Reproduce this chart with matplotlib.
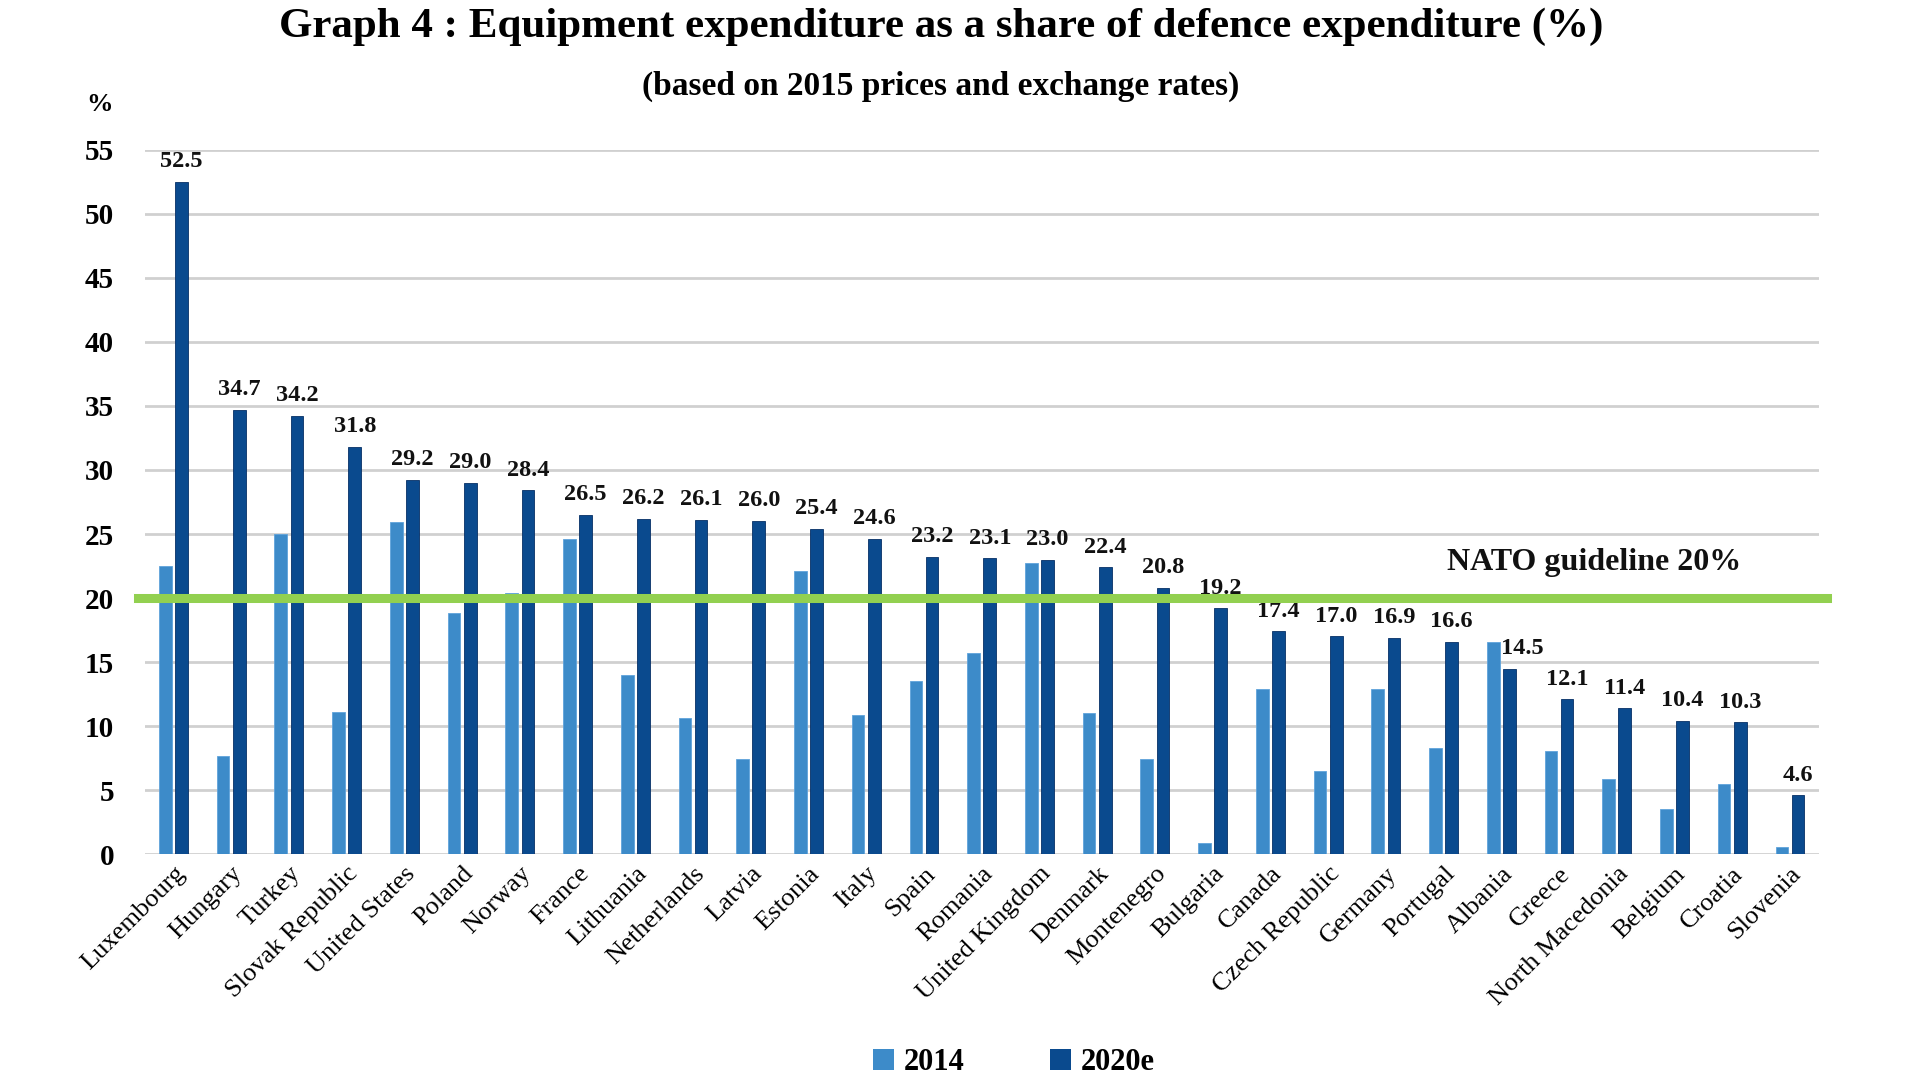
import matplotlib
matplotlib.use("Agg")
import matplotlib.pyplot as plt
import numpy as np
from matplotlib.patches import Patch

countries = ["Luxembourg", "Hungary", "Turkey", "Slovak Republic", "United States", "Poland",
             "Norway", "France", "Lithuania", "Netherlands", "Latvia", "Estonia", "Italy", "Spain",
             "Romania", "United Kingdom", "Denmark", "Montenegro", "Bulgaria", "Canada",
             "Czech Republic", "Germany", "Portugal", "Albania", "Greece", "North Macedonia",
             "Belgium", "Croatia", "Slovenia"]
values_2014 = [22.5, 7.7, 25.0, 11.1, 25.9, 18.8, 20.4, 24.6, 14.0, 10.6, 7.4, 22.1, 10.9, 13.5,
               15.7, 22.7, 11.0, 7.4, 0.9, 12.9, 6.5, 12.9, 8.3, 16.6, 8.1, 5.9, 3.5, 5.5, 0.6]
values_2020 = [52.5, 34.7, 34.2, 31.8, 29.2, 29.0, 28.4, 26.5, 26.2, 26.1, 26.0, 25.4, 24.6, 23.2,
               23.1, 23.0, 22.4, 20.8, 19.2, 17.4, 17.0, 16.9, 16.6, 14.5, 12.1, 11.4, 10.4, 10.3, 4.6]
series_names = ["2014", "2020e"]
yticks = [0, 5, 10, 15, 20, 25, 30, 35, 40, 45, 50, 55]
guideline = 20
guideline_label = "NATO guideline 20%"

plt.rcParams['font.family'] = ['Liberation Serif', 'DejaVu Serif']

c14 = "#3D8BC9"
c20 = "#0A4A8E"
green = "#92D050"

fig = plt.figure(figsize=(19.2, 10.8), dpi=100)
ax = fig.add_axes([0.0753, 0.209, 0.872, 0.6524])

x = np.arange(len(countries))
w = 0.22
off = 0.14
ax.bar(x - off, values_2014, w, color=c14, edgecolor="#5FA3DB", linewidth=0.6, zorder=3)
ax.bar(x + off, values_2020, w, color=c20, edgecolor="#062F66", linewidth=0.6, zorder=3)

for xi, v, v14 in zip(x, values_2020, values_2014):
    dx = 9 if v14 > v else 0
    ax.annotate(f"{v:.1f}", (xi + off, v), xytext=(dx, 7), textcoords="offset points",
                ha="center", va="bottom", fontsize=17.5, fontweight="bold", color="#111111")

ax.axhline(guideline, xmin=-0.004, xmax=1.005, color=green, linewidth=6.5, zorder=4, clip_on=False)
ax.text(24.6, 22.8, guideline_label, ha="center", va="center", fontsize=23,
        fontweight="bold", color="#111111")

ax.set_xlim(-0.5, len(countries) - 0.5)
ax.set_ylim(0, 55)
ax.set_yticks(yticks)
ax.set_yticklabels([str(t) for t in yticks], fontsize=21, fontweight="bold")
ax.yaxis.grid(True, color="#D0D0D0", linewidth=2.0, zorder=0)
ax.set_axisbelow(True)
for s in ax.spines.values():
    s.set_visible(False)
ax.tick_params(axis="y", length=0, pad=22)
ax.tick_params(axis="x", length=0, pad=6)
ax.set_xticks(x)
ax.set_xticklabels(countries, rotation=45, ha="right", rotation_mode="anchor", fontsize=19)

fig.text(0.490, 0.975, "Graph 4 : Equipment expenditure as a share of defence expenditure (%)",
         ha="center", va="center", fontsize=31, fontweight="bold")
fig.text(0.490, 0.920, "(based on 2015 prices and exchange rates)",
         ha="center", va="center", fontsize=24, fontweight="bold")
fig.text(0.052, 0.903, "%", ha="center", va="center", fontsize=19, fontweight="bold")

handles = [Patch(facecolor=c14), Patch(facecolor=c20)]
leg = fig.legend(handles, series_names, loc="center", bbox_to_anchor=(0.528, 0.016), ncol=2,
                 frameon=False, prop={"size": 22, "weight": "bold"}, handlelength=0.7,
                 handleheight=0.7, handletextpad=0.3, columnspacing=2.8)

fig.savefig("out.png", dpi=100, facecolor="white")
